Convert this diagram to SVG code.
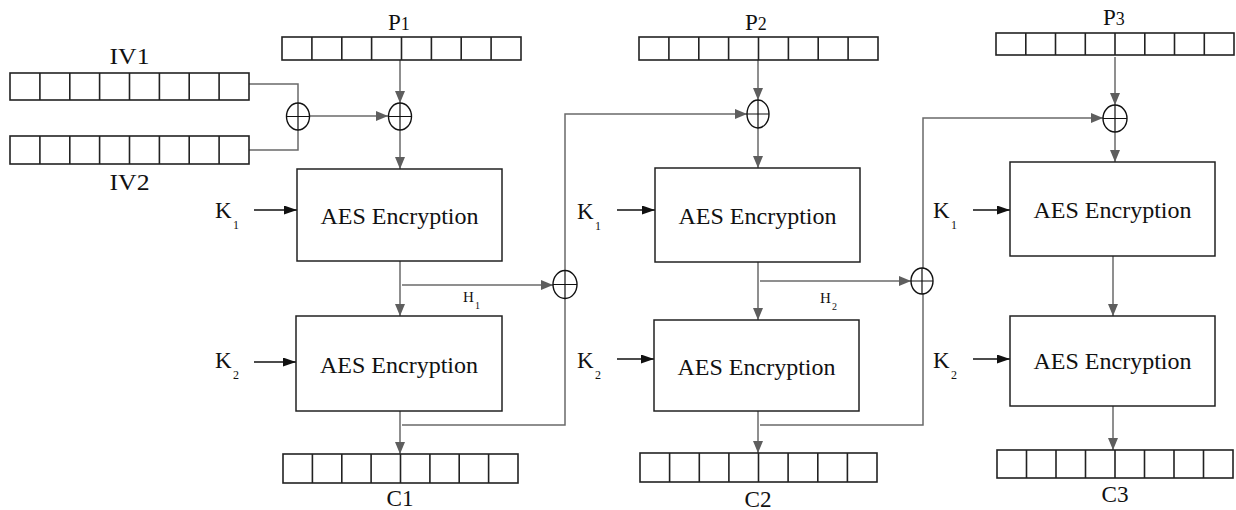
<svg xmlns="http://www.w3.org/2000/svg" width="1236" height="510" viewBox="0 0 1236 510">
  <style>
    .reg rect, .reg path { fill: none; stroke: #222; stroke-width: 1.6; }
    .reg rect { fill: #fff; }
    .box rect { fill: #fff; stroke: #222; stroke-width: 1.5; }
    .xor ellipse { fill: #fff; stroke: #111; stroke-width: 1.4; }
    .xor path { stroke: #111; stroke-width: 1.2; fill: none; }
    .wire { fill: none; stroke: #6a6a6a; stroke-width: 1.5; }
    .key { fill: none; stroke: #111; stroke-width: 1.6; }
    text { font-family: "Liberation Serif", "Times New Roman", serif; fill: #111; }
    .big { font-size: 23px; }
    .kl { font-size: 23px; }
    .aes { font-size: 23px; }
    .sub { font-size: 12px; }
    .hs { font-size: 15px; }
    .hsub { font-size: 10px; }
    .pl { font-size: 23px; }
    .pd { font-size: 18px; }
  </style>
  <defs>
    <marker id="ga" markerUnits="userSpaceOnUse" markerWidth="12" markerHeight="10" refX="12" refY="5" orient="auto">
      <path d="M0,0 L12,5 L0,10 z" fill="#5e5e5e"/>
    </marker>
    <marker id="ka" markerUnits="userSpaceOnUse" markerWidth="13" markerHeight="9" refX="13" refY="4.5" orient="auto">
      <path d="M0,0 L13,4.5 L0,9 z" fill="#111"/>
    </marker>
  </defs>

  <!-- connectors -->
  <g id="connectors">
    <path class="wire" d="M249,84 H298 V103"/>
    <path class="wire" d="M249,150 H298 V130"/>
    <path class="wire" d="M310,116 H388" marker-end="url(#ga)"/>
    <path class="wire" d="M400,60 V103" marker-end="url(#ga)"/>
    <path class="wire" d="M400,130 V169" marker-end="url(#ga)"/>
    <path class="wire" d="M400,261 V316" marker-end="url(#ga)"/>
    <path class="wire" d="M402,285 H553" marker-end="url(#ga)"/>
    <path class="wire" d="M400,411 V454" marker-end="url(#ga)"/>
    <path class="wire" d="M402,425 H565 V114 H747" marker-end="url(#ga)"/>

    <path class="wire" d="M758,60 V100" marker-end="url(#ga)"/>
    <path class="wire" d="M758,128 V168" marker-end="url(#ga)"/>
    <path class="wire" d="M758,262 V320" marker-end="url(#ga)"/>
    <path class="wire" d="M760,281 H911" marker-end="url(#ga)"/>
    <path class="wire" d="M758,411 V453" marker-end="url(#ga)"/>
    <path class="wire" d="M760,425 H923 V118 H1103" marker-end="url(#ga)"/>

    <path class="wire" d="M1115,57 V105" marker-end="url(#ga)"/>
    <path class="wire" d="M1115,132 V162" marker-end="url(#ga)"/>
    <path class="wire" d="M1113,256 V316" marker-end="url(#ga)"/>
    <path class="wire" d="M1113,406 V450" marker-end="url(#ga)"/>

    <path class="key" d="M254,210 H297" marker-end="url(#ka)"/>
    <path class="key" d="M254,362 H296" marker-end="url(#ka)"/>
    <path class="key" d="M617,210 H655" marker-end="url(#ka)"/>
    <path class="key" d="M617,359 H654" marker-end="url(#ka)"/>
    <path class="key" d="M973,210 H1010" marker-end="url(#ka)"/>
    <path class="key" d="M973,359 H1010" marker-end="url(#ka)"/>
  </g>

  <!-- registers -->
  <g id="iv1" class="reg">
    <rect x="10" y="73" width="239" height="27"/>
    <path d="M39.9,73 v27 M69.8,73 v27 M99.6,73 v27 M129.5,73 v27 M159.4,73 v27 M189.2,73 v27 M219.1,73 v27"/>
    <text class="big" x="129.5" y="64" text-anchor="middle" textLength="40" lengthAdjust="spacingAndGlyphs">IV1</text>
  </g>
  <g id="iv2" class="reg">
    <rect x="10" y="136" width="239" height="28"/>
    <path d="M39.9,136 v28 M69.8,136 v28 M99.6,136 v28 M129.5,136 v28 M159.4,136 v28 M189.2,136 v28 M219.1,136 v28"/>
    <text class="big" x="129.5" y="190" text-anchor="middle" textLength="40" lengthAdjust="spacingAndGlyphs">IV2</text>
  </g>
  <g id="p1" class="reg">
    <rect x="282" y="37" width="239" height="23"/>
    <path d="M311.9,37 v23 M341.8,37 v23 M371.6,37 v23 M401.5,37 v23 M431.4,37 v23 M461.2,37 v23 M491.1,37 v23"/>
    <text x="388" y="30"><tspan class="pl">P</tspan><tspan class="pd">1</tspan></text>
  </g>
  <g id="p2" class="reg">
    <rect x="639" y="37" width="239" height="23"/>
    <path d="M668.9,37 v23 M698.8,37 v23 M728.6,37 v23 M758.5,37 v23 M788.4,37 v23 M818.2,37 v23 M848.1,37 v23"/>
    <text x="745" y="30"><tspan class="pl">P</tspan><tspan class="pd">2</tspan></text>
  </g>
  <g id="p3" class="reg">
    <rect x="996" y="33" width="238" height="22"/>
    <path d="M1025.8,33 v22 M1055.5,33 v22 M1085.3,33 v22 M1115,33 v22 M1144.8,33 v22 M1174.5,33 v22 M1204.3,33 v22"/>
    <text x="1103" y="25"><tspan class="pl">P</tspan><tspan class="pd">3</tspan></text>
  </g>
  <g id="c1" class="reg">
    <rect x="283" y="454" width="235" height="29"/>
    <path d="M312.4,454 v29 M341.8,454 v29 M371.1,454 v29 M400.5,454 v29 M429.9,454 v29 M459.2,454 v29 M488.6,454 v29"/>
    <text class="big" x="400" y="506" text-anchor="middle" textLength="27" lengthAdjust="spacingAndGlyphs">C1</text>
  </g>
  <g id="c2" class="reg">
    <rect x="640" y="453" width="237" height="29"/>
    <path d="M669.6,453 v29 M699.3,453 v29 M728.9,453 v29 M758.5,453 v29 M788.1,453 v29 M817.8,453 v29 M847.4,453 v29"/>
    <text class="big" x="758" y="507" text-anchor="middle" textLength="27" lengthAdjust="spacingAndGlyphs">C2</text>
  </g>
  <g id="c3" class="reg">
    <rect x="997" y="450" width="236" height="28"/>
    <path d="M1026.5,450 v28 M1056,450 v28 M1085.5,450 v28 M1115,450 v28 M1144.5,450 v28 M1174,450 v28 M1203.5,450 v28"/>
    <text class="big" x="1115" y="502" text-anchor="middle" textLength="27" lengthAdjust="spacingAndGlyphs">C3</text>
  </g>

  <!-- XOR operators -->
  <g id="xor-iv" class="xor">
    <ellipse cx="298" cy="116.5" rx="11.5" ry="13.5"/>
    <path d="M298,103 V130 M286.5,116.5 H309.5"/>
  </g>
  <g id="xor-p1" class="xor">
    <ellipse cx="400" cy="116.5" rx="11.5" ry="13.5"/>
    <path d="M400,103 V130 M388.5,116.5 H411.5"/>
  </g>
  <g id="xor-h1" class="xor">
    <ellipse cx="565" cy="284.5" rx="12" ry="14"/>
    <path d="M565,270.5 V298.5 M553,284.5 H577"/>
  </g>
  <g id="xor-p2" class="xor">
    <ellipse cx="758" cy="114" rx="11" ry="14"/>
    <path d="M758,100 V128 M747,114 H769"/>
  </g>
  <g id="xor-h2" class="xor">
    <ellipse cx="922" cy="281" rx="11" ry="13"/>
    <path d="M922,268 V294 M911,281 H933"/>
  </g>
  <g id="xor-p3" class="xor">
    <ellipse cx="1115" cy="118.5" rx="12" ry="13.5"/>
    <path d="M1115,105 V132 M1103,118.5 H1127"/>
  </g>

  <!-- AES blocks -->
  <g id="aes-1a" class="box">
    <rect x="297" y="169" width="205" height="92"/>
    <text class="aes" x="399.5" y="224" text-anchor="middle" textLength="158" lengthAdjust="spacingAndGlyphs">AES Encryption</text>
  </g>
  <g id="aes-1b" class="box">
    <rect x="296" y="316" width="206" height="95"/>
    <text class="aes" x="399" y="373" text-anchor="middle" textLength="158" lengthAdjust="spacingAndGlyphs">AES Encryption</text>
  </g>
  <g id="aes-2a" class="box">
    <rect x="655" y="168" width="205" height="94"/>
    <text class="aes" x="757.5" y="224" text-anchor="middle" textLength="158" lengthAdjust="spacingAndGlyphs">AES Encryption</text>
  </g>
  <g id="aes-2b" class="box">
    <rect x="654" y="320" width="205" height="91"/>
    <text class="aes" x="756.5" y="375" text-anchor="middle" textLength="158" lengthAdjust="spacingAndGlyphs">AES Encryption</text>
  </g>
  <g id="aes-3a" class="box">
    <rect x="1010" y="162" width="205" height="94"/>
    <text class="aes" x="1112.5" y="218" text-anchor="middle" textLength="158" lengthAdjust="spacingAndGlyphs">AES Encryption</text>
  </g>
  <g id="aes-3b" class="box">
    <rect x="1010" y="316" width="205" height="90"/>
    <text class="aes" x="1112.5" y="369" text-anchor="middle" textLength="158" lengthAdjust="spacingAndGlyphs">AES Encryption</text>
  </g>

  <!-- key and intermediate labels -->
  <g id="keys">
    <text class="kl" x="215" y="218">K</text><text class="sub" x="233" y="229">1</text>
    <text class="kl" x="215" y="368">K</text><text class="sub" x="233" y="379">2</text>
    <text class="kl" x="577" y="219">K</text><text class="sub" x="595" y="230">1</text>
    <text class="kl" x="577" y="368">K</text><text class="sub" x="595" y="379">2</text>
    <text class="kl" x="933" y="218">K</text><text class="sub" x="951" y="229">1</text>
    <text class="kl" x="933" y="368">K</text><text class="sub" x="951" y="379">2</text>
  </g>
  <g id="h-labels">
    <text class="hs" x="463" y="302">H</text><text class="hsub" x="475" y="309">1</text>
    <text class="hs" x="820" y="303">H</text><text class="hsub" x="832" y="310">2</text>
  </g>
</svg>
